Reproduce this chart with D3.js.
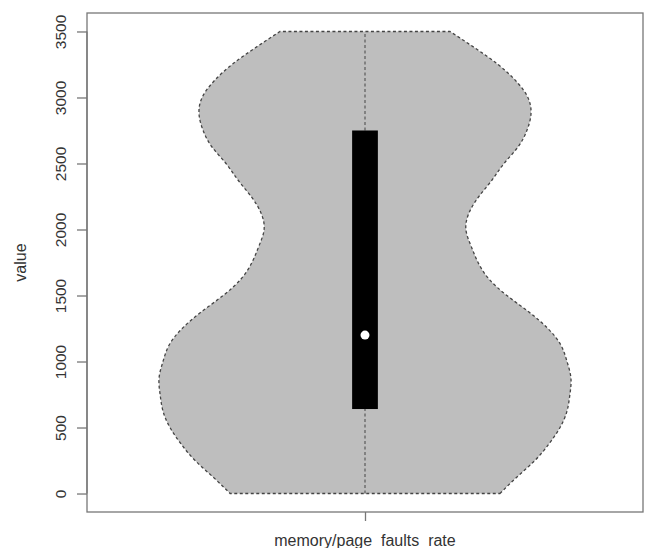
<!DOCTYPE html>
<html>
<head>
<meta charset="utf-8">
<script src="https://cdn.jsdelivr.net/npm/d3@7"></script>
<style>
  body { margin: 0; background: #fff; }
  text { font-family: "Liberation Sans", Arial, sans-serif; fill: #333; }
</style>
</head>
<body>
<div id="chart"></div>
<script>
// Violin of memory/page_faults_rate

const category = "memory/page_faults_rate";
const yTicks = [0, 500, 1000, 1500, 2000, 2500, 3000, 3500];

// kernel density outline (relative density, max = 1), every 125 units
const densityValues = [0, 125, 250, 375, 500, 625, 750, 875, 1000, 1125, 1250, 1375, 1500, 1625, 1750, 1875, 2000, 2125, 2250, 2375, 2500, 2625, 2750, 2875, 3000, 3125, 3250, 3375, 3500];
const densityWidths = [0.655, 0.738, 0.825, 0.893, 0.947, 0.981, 0.995, 1.0, 0.981, 0.951, 0.888, 0.796, 0.689, 0.602, 0.549, 0.515, 0.490, 0.505, 0.553, 0.617, 0.675, 0.743, 0.786, 0.806, 0.791, 0.733, 0.646, 0.534, 0.413];

// box summary
const dataMin = 0;
const dataMax = 3500;
const q1 = 640;
const q3 = 2750;
const median = 1200;

const width = 649, height = 548;
const margin = { top: 13, right: 6, bottom: 36, left: 87 };

const svg = d3.select("#chart").append("svg")
    .attr("width", width)
    .attr("height", height);

// R style: range expanded by 4%
const x = d3.scaleLinear()
    .domain([0.46, 1.54])
    .range([margin.left, width - margin.right]);

const y = d3.scaleLinear()
    .domain([dataMin - 0.04 * (dataMax - dataMin), dataMax + 0.04 * (dataMax - dataMin)])
    .range([height - margin.bottom, margin.top]);

const w = d3.scaleLinear().domain([0, d3.max(densityWidths)]).range([0, 0.4]);

const density = densityValues.map((v, i) => ({ v: v, d: densityWidths[i] }));

// violin body
const area = d3.area()
    .y(d => y(d.v))
    .x0(d => x(1 - w(d.d)))
    .x1(d => x(1 + w(d.d)))
    .curve(d3.curveNatural);

svg.append("path")
    .datum(density)
    .attr("d", area)
    .attr("fill", "#bebebe")
    .attr("stroke", "#444")
    .attr("stroke-width", 1.3)
    .attr("stroke-dasharray", "3,2.5");

// whisker line
svg.append("line")
    .attr("x1", x(1)).attr("x2", x(1))
    .attr("y1", y(dataMin)).attr("y2", y(dataMax))
    .attr("stroke", "#444")
    .attr("stroke-width", 1)
    .attr("stroke-dasharray", "3,2.5");

// box
svg.append("rect")
    .attr("x", x(1 - 0.025))
    .attr("width", x(1.025) - x(0.975))
    .attr("y", y(q3))
    .attr("height", y(q1) - y(q3))
    .attr("fill", "#000");

// median
svg.append("circle")
    .attr("cx", x(1))
    .attr("cy", y(median))
    .attr("r", 4.5)
    .attr("fill", "#fff");

// plot frame
svg.append("rect")
    .attr("x", margin.left)
    .attr("y", margin.top)
    .attr("width", width - margin.left - margin.right)
    .attr("height", height - margin.top - margin.bottom)
    .attr("fill", "none")
    .attr("stroke", "#777")
    .attr("stroke-width", 1.3);

// y axis
const yAxis = svg.append("g")
    .attr("transform", `translate(${margin.left},0)`)
    .call(d3.axisLeft(y).tickValues(yTicks).tickSize(10).tickFormat(d3.format("d")));

yAxis.select(".domain")
    .attr("d", `M0,${y(dataMin)}V${y(dataMax)}`)
    .attr("stroke", "#777")
    .attr("stroke-width", 1.3);
yAxis.selectAll(".tick line").attr("stroke", "#777").attr("stroke-width", 1.3);
yAxis.selectAll(".tick text")
    .attr("x", null).attr("dy", null)
    .attr("text-anchor", "middle")
    .attr("transform", "translate(-21.5,0) rotate(-90)")
    .style("font-size", "15.5px")
    .style("font-family", "Liberation Sans, Arial, sans-serif")
    .attr("fill", "#333");

// x axis
const xAxis = svg.append("g")
    .attr("transform", `translate(0,${height - margin.bottom})`)
    .call(d3.axisBottom(x).tickValues([1]).tickSize(9).tickFormat(() => ""));
xAxis.select(".domain").remove();
xAxis.selectAll(".tick line").attr("stroke", "#777").attr("stroke-width", 1.3);

svg.append("text")
    .attr("x", x(1))
    .attr("y", 546)
    .attr("text-anchor", "middle")
    .style("font-size", "16px")
    .text(category);

svg.append("text")
    .attr("transform", `translate(26,${(margin.top + height - margin.bottom) / 2}) rotate(-90)`)
    .attr("text-anchor", "middle")
    .style("font-size", "16px")
    .text("value");
</script>
</body>
</html>
